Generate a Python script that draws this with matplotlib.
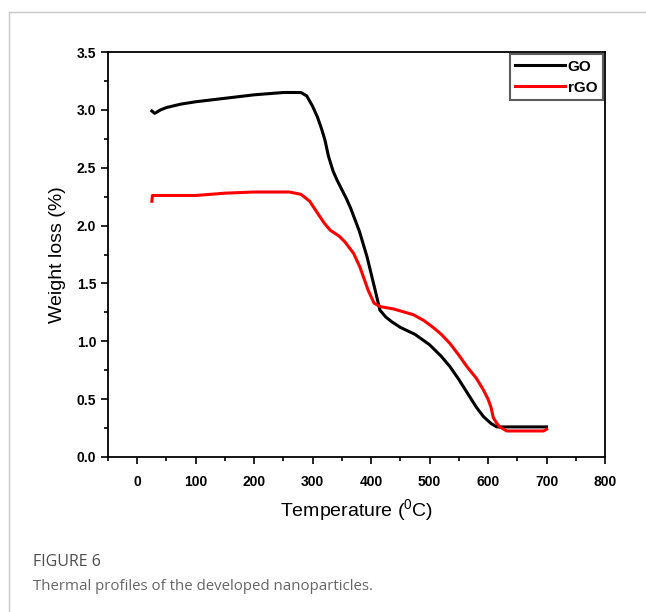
import matplotlib
matplotlib.use("Agg")
import matplotlib.pyplot as plt
from matplotlib.lines import Line2D
from matplotlib.ticker import MultipleLocator

plt.rcParams['font.family'] = ['Liberation Sans', 'DejaVu Sans']
plt.rcParams['mathtext.fontset'] = 'custom'
plt.rcParams['mathtext.rm'] = 'Liberation Sans'

# GO thermal profile (temperature in C, weight loss in %)
go_temp = [25, 30, 40, 50, 75, 100, 150, 200, 250, 270, 280, 290, 300, 308, 315,
           321, 327, 335, 342, 350, 358, 365, 380, 393, 407, 415, 425, 435,
           450, 475, 500, 520, 535, 550, 565, 580, 592, 605, 615, 630, 700]
go_wt = [2.99, 2.97, 3.00, 3.02, 3.05, 3.07, 3.10, 3.13, 3.15, 3.15, 3.15, 3.12,
         3.03, 2.94, 2.84, 2.74, 2.60, 2.47, 2.39, 2.31, 2.23, 2.15, 1.95,
         1.73, 1.44, 1.27, 1.21, 1.17, 1.12, 1.06, 0.97, 0.87, 0.78, 0.67,
         0.55, 0.43, 0.35, 0.29, 0.26, 0.26, 0.26]

# rGO thermal profile
rgo_temp = [25, 26, 30, 50, 100, 150, 200, 240, 260, 280, 295, 308, 320, 330,
            345, 355, 370, 381, 395, 405, 415, 438, 472, 490, 506, 520, 535,
            550, 564, 580, 592, 600, 605, 609, 615, 620, 632, 650, 695, 700]
rgo_wt = [2.21, 2.26, 2.26, 2.26, 2.26, 2.28, 2.29, 2.29, 2.29, 2.27, 2.21,
          2.11, 2.02, 1.96, 1.91, 1.86, 1.76, 1.64, 1.44, 1.33, 1.30, 1.28,
          1.23, 1.18, 1.12, 1.06, 0.98, 0.88, 0.78, 0.68, 0.58, 0.50, 0.43,
          0.34, 0.29, 0.26, 0.225, 0.225, 0.225, 0.24]

x_ticks = [0, 100, 200, 300, 400, 500, 600, 700, 800]
y_ticks = [0.0, 0.5, 1.0, 1.5, 2.0, 2.5, 3.0, 3.5]

fig = plt.figure(figsize=(6.46, 6.12), dpi=100)

# light frame of the figure panel
fig.add_artist(Line2D([9 / 646, 9 / 646], [0, 1 - 12 / 612], color='#c8c8c8', lw=1.0))
fig.add_artist(Line2D([9 / 646, 1], [1 - 12 / 612, 1 - 12 / 612], color='#c8c8c8', lw=1.0))

ax = fig.add_axes([108 / 646, 1 - 457 / 612, 497 / 646, 405 / 612])
ax.plot(go_temp, go_wt, color='black', lw=2.2, label='GO')
ax.plot(rgo_temp, rgo_wt, color='red', lw=2.2, label='rGO')

ax.set_xlim(-50, 800)
ax.set_ylim(0, 3.5)
ax.set_xticks(x_ticks)
ax.set_yticks(y_ticks)
ax.set_yticklabels([f"{v:.1f}" for v in y_ticks])
ax.xaxis.set_minor_locator(MultipleLocator(50))
ax.yaxis.set_minor_locator(MultipleLocator(0.25))
ax.tick_params(which='major', direction='out', length=5, width=1.2,
               labelsize=10, top=False, right=False)
ax.tick_params(which='minor', direction='out', length=3, width=1.2,
               top=False, right=False)
for lab in ax.get_xticklabels() + ax.get_yticklabels():
    lab.set_fontweight('bold')
ax.tick_params(axis='x', pad=8)
for sp in ax.spines.values():
    sp.set_linewidth(1.3)

ax.set_xlabel(r'Temperature ($^{\mathrm{0}}$C)', fontsize=14, labelpad=6)
ax.set_ylabel('Weight loss (%)', fontsize=14, labelpad=8)

leg = ax.legend(loc='upper right', fancybox=False, edgecolor='#333333',
                borderaxespad=0.15, handlelength=3.3, handletextpad=0.15,
                labelspacing=0.45, borderpad=0.35,
                prop={'weight': 'bold', 'size': 11})
leg.get_frame().set_linewidth(1.5)

fig.text(33 / 646, 1 - 562 / 612, 'FIGURE 6', fontsize=11.5, color='#4d4d4d',
         family=['Open Sans', 'DejaVu Sans'], va='center')
fig.text(33 / 646, 1 - 586 / 612, 'Thermal profiles of the developed nanoparticles.',
         fontsize=10.8, color='#666666', family=['Open Sans', 'DejaVu Sans'], va='center')

fig.savefig('out.png', dpi=100)
